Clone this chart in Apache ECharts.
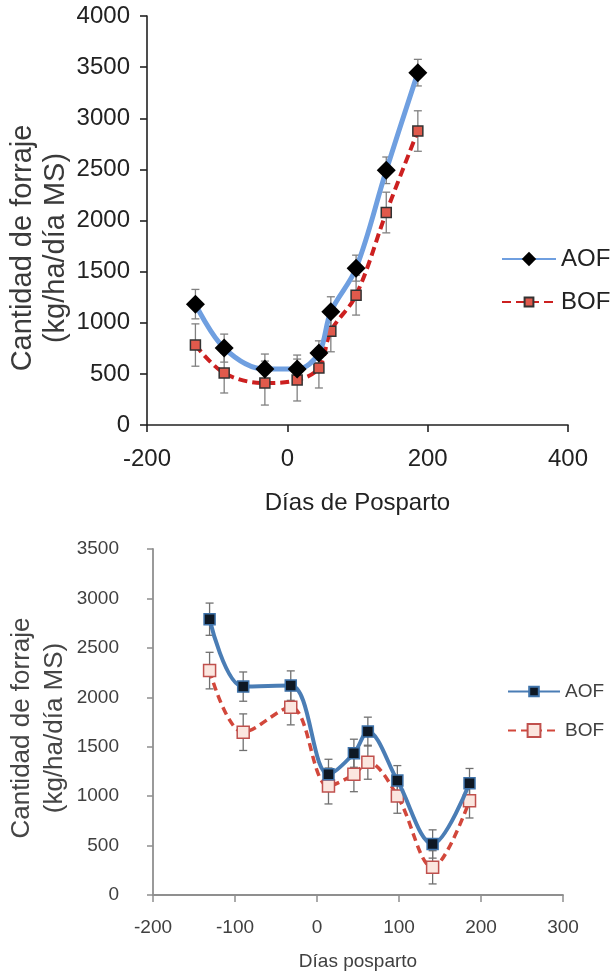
<!DOCTYPE html>
<html>
<head>
<meta charset="utf-8">
<script src="https://cdn.jsdelivr.net/npm/echarts@6/dist/echarts.min.js"></script>
<style>
  html, body { margin: 0; padding: 0; background: #fff; }
  #c1 { width: 610px; height: 520px; }
  #c2 { width: 610px; height: 451px; }
</style>
</head>
<body>
<div id="c1"></div>
<div id="c2"></div>
<script>
// ---- Data ----
const days = [-131, -90, -32, 14, 45, 62, 98, 141, 186];

// Top chart
const topXTicks = [-200, 0, 200, 400];
const topYTicks = [0, 500, 1000, 1500, 2000, 2500, 3000, 3500, 4000];
const aofTop = [1182, 752, 547, 547, 703, 1107, 1534, 2491, 3446];
const bofTop = [782, 508, 410, 440, 557, 918, 1270, 2078, 2875];
const aofTopErr = [144, 137, 147, 137, 120, 147, 127, 130, 130];
const bofTopErr = [207, 195, 215, 205, 195, 202, 195, 199, 198];

// Bottom chart
const botXTicks = [-200, -100, 0, 100, 200, 300];
const botYTicks = [0, 500, 1000, 1500, 2000, 2500, 3000, 3500];
const aofBot = [2790, 2108, 2118, 1221, 1434, 1653, 1157, 516, 1130];
const bofBot = [2270, 1647, 1900, 1103, 1221, 1343, 1002, 280, 954];
const aofBotErr = [163, 148, 149, 152, 142, 146, 152, 143, 150];
const bofBotErr = [185, 185, 179, 182, 176, 172, 175, 168, 175];

const yTitleLines = ['Cantidad de forraje', '(kg/ha/día MS)'];

// ---- Helpers ----
function pairs(vals) { return days.map((d, i) => [d, vals[i]]); }
function errData(vals, errs) { return days.map((d, i) => [d, vals[i] - errs[i], vals[i] + errs[i]]); }
function errSeries(data, color, cap) {
  return {
    type: 'custom', silent: true, z: 1,
    data: data,
    renderItem: function (params, api) {
      const x = api.value(0);
      const lo = api.coord([x, api.value(1)]);
      const hi = api.coord([x, api.value(2)]);
      const st = { stroke: color, lineWidth: 1.3 };
      return {
        type: 'group',
        children: [
          { type: 'line', shape: { x1: lo[0], y1: lo[1], x2: hi[0], y2: hi[1] }, style: st },
          { type: 'line', shape: { x1: lo[0] - cap, y1: lo[1], x2: lo[0] + cap, y2: lo[1] }, style: st },
          { type: 'line', shape: { x1: hi[0] - cap, y1: hi[1], x2: hi[0] + cap, y2: hi[1] }, style: st }
        ]
      };
    }
  };
}
function span(t) { return { min: t[0], max: t[t.length - 1], interval: t[1] - t[0] }; }
const plain = v => String(v);

// ---- Top chart ----
const c1 = echarts.init(document.getElementById('c1'));
const txt1 = '#222';
c1.setOption({
  animation: false,
  grid: { left: 147, right: 42, top: 16, bottom: 95, containLabel: false, outerBoundsMode: 'none' },
  xAxis: Object.assign({
    type: 'value',
    name: 'Días de Posparto', nameLocation: 'middle', nameGap: 66,
    nameTextStyle: { fontFamily: 'Liberation Sans', fontSize: 24, color: txt1 },
    axisLine: { onZero: false, lineStyle: { color: '#222', width: 1.6 } },
    axisTick: { length: 7, lineStyle: { color: '#222', width: 1.6 } },
    axisLabel: { margin: 22, fontFamily: 'Liberation Sans', fontSize: 24, color: txt1, formatter: plain },
    splitLine: { show: false }
  }, span(topXTicks)),
  yAxis: Object.assign({
    type: 'value',
    axisLine: { show: true, onZero: false, lineStyle: { color: '#222', width: 1.6 } },
    axisTick: { show: true, length: 7, lineStyle: { color: '#222', width: 1.6 } },
    axisLabel: { margin: 17, fontFamily: 'Liberation Sans', fontSize: 24, color: txt1, formatter: plain },
    splitLine: { show: false }
  }, span(topYTicks)),
  graphic: [{
    type: 'text', x: 39, y: 248, rotation: Math.PI / 2,
    style: { text: yTitleLines.join('\n'), font: '29px "Liberation Sans"', fill: '#3a3a3a',
             align: 'center', verticalAlign: 'middle', lineHeight: 33 }
  }],
  legend: [
    { data: ['AOF'], left: 496, top: 242, orient: 'vertical', itemWidth: 54, itemHeight: 18,
      textStyle: { fontFamily: 'Liberation Sans', fontSize: 24, color: txt1 } },
    { data: ['BOF'], left: 496, top: 285, orient: 'vertical', itemWidth: 54, itemHeight: 11,
      textStyle: { fontFamily: 'Liberation Sans', fontSize: 24, color: txt1 } }
  ],
  series: [
    errSeries(errData(aofTop, aofTopErr), '#808080', 4),
    errSeries(errData(bofTop, bofTopErr), '#808080', 4),
    {
      name: 'BOF', type: 'line', smooth: 0.35, z: 2, data: pairs(bofTop),
      symbol: 'rect', symbolSize: 10,
      lineStyle: { color: '#cc2020', width: 4, type: [9, 5] },
      itemStyle: { color: '#e05a4c', borderColor: '#333', borderWidth: 1.5 }
    },
    {
      name: 'AOF', type: 'line', smooth: 0.35, z: 3, data: pairs(aofTop),
      symbol: 'diamond', symbolSize: 19,
      lineStyle: { color: '#6f9fe0', width: 5 },
      itemStyle: { color: '#000' }
    }
  ]
});

// ---- Bottom chart ----
const c2 = echarts.init(document.getElementById('c2'));
const txt2 = '#404040';
c2.setOption({
  animation: false,
  grid: { left: 153, right: 47, top: 29, bottom: 76, containLabel: false, outerBoundsMode: 'none' },
  xAxis: Object.assign({
    type: 'value',
    name: 'Días posparto', nameLocation: 'middle', nameGap: 57,
    nameTextStyle: { fontFamily: 'Liberation Sans', fontSize: 19, color: txt2 },
    axisLine: { onZero: false, lineStyle: { color: '#8f8f8f', width: 1.8 } },
    axisTick: { length: 7, lineStyle: { color: '#8f8f8f', width: 1.5 } },
    axisLabel: { margin: 23, fontFamily: 'Liberation Sans', fontSize: 19, color: txt2, formatter: plain },
    splitLine: { show: false }
  }, span(botXTicks)),
  yAxis: Object.assign({
    type: 'value',
    axisLine: { show: true, onZero: false, lineStyle: { color: '#8f8f8f', width: 1.8 } },
    axisTick: { show: true, length: 6, lineStyle: { color: '#8f8f8f', width: 1.5 } },
    axisLabel: { margin: 34, fontFamily: 'Liberation Sans', fontSize: 19, color: txt2, formatter: plain },
    splitLine: { show: false }
  }, span(botYTicks)),
  graphic: [{
    type: 'text', x: 38, y: 208, rotation: Math.PI / 2,
    style: { text: yTitleLines.join('\n'), font: '26px "Liberation Sans"', fill: '#454545',
             align: 'center', verticalAlign: 'middle', lineHeight: 33 }
  }],
  legend: [
    { data: ['AOF'], left: 502, top: 157, orient: 'vertical', itemWidth: 52, itemHeight: 12,
      textStyle: { fontFamily: 'Liberation Sans', fontSize: 19, color: txt2 } },
    { data: ['BOF'], left: 502, top: 196, orient: 'vertical', itemWidth: 52, itemHeight: 16,
      textStyle: { fontFamily: 'Liberation Sans', fontSize: 19, color: txt2 } }
  ],
  series: [
    errSeries(errData(aofBot, aofBotErr), '#707070', 4),
    errSeries(errData(bofBot, bofBotErr), '#707070', 4),
    {
      name: 'BOF', type: 'line', smooth: 0.35, z: 2, data: pairs(bofBot),
      symbol: 'rect', symbolSize: 12,
      lineStyle: { color: '#d2473b', width: 3.5, type: [8, 5] },
      itemStyle: { color: '#fbe6df', borderColor: '#c0504d', borderWidth: 1.5 }
    },
    {
      name: 'AOF', type: 'line', smooth: 0.35, z: 3, data: pairs(aofBot),
      symbol: 'rect', symbolSize: 11,
      lineStyle: { color: '#4a7db5', width: 4 },
      itemStyle: { color: '#0e1824', borderColor: '#3f73aa', borderWidth: 1.5 }
    }
  ]
});
</script>
</body>
</html>
